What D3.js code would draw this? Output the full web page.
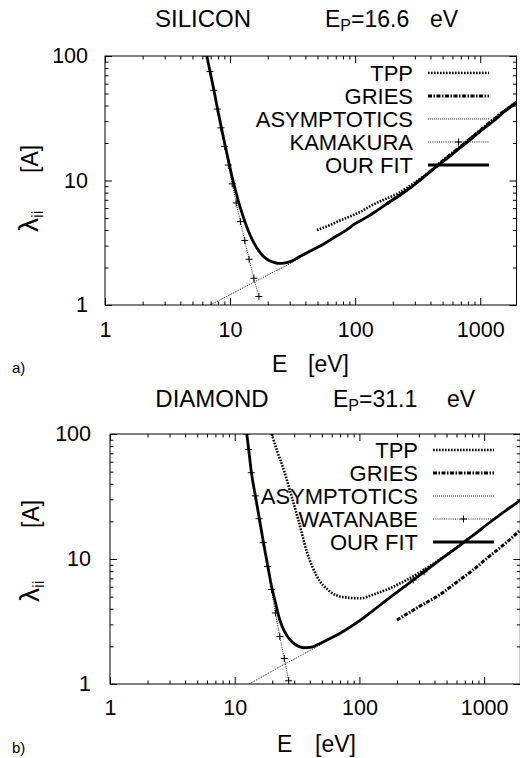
<!DOCTYPE html>
<html>
<head>
<meta charset="utf-8">
<script src="https://cdn.jsdelivr.net/npm/d3@7"></script>
<style>
  body { margin: 0; background: #fff; }
  svg { display: block; font-family: "Liberation Sans", Arial, Helvetica, sans-serif; }
  .axis text { font-size: 21.5px; fill: #000; }
  .axis line { stroke: #000; stroke-width: 1; }
</style>
</head>
<body>
<svg id="chart" width="520" height="758"></svg>
<script>
// ---- data (E in eV, lambda in A) ----
const xTicks = [1, 10, 100, 1000];
const yTicks = [1, 10, 100];

// a) silicon
const siTitle = "SILICON";
const siEp = "=16.6";
const siLegend = ["TPP", "GRIES", "ASYMPTOTICS", "KAMAKURA", "OUR FIT"];
const siTpp = [[49.5, 4.0], [60, 4.3], [75, 4.75], [91, 5.15], [110, 5.6], [135, 6.3], [169, 7.0], [216, 7.8],
  [280, 9.2], [380, 11.4], [500, 14.3], [700, 18.9], [1000, 25.2], [1400, 33.5], [1950, 42.5]];
const siGries = [[180, 6.5], [250, 8.2], [350, 10.6], [500, 14.4], [700, 18.8], [1000, 25.3], [1400, 33.3], [1950, 42.6]];
const siAsym = [[6.9, 1.0], [10, 1.21], [15, 1.5], [20, 1.74], [25, 1.95], [31, 2.18], [38, 2.45], [45, 2.7]];
const siKamakura = [[6.5, 100], [6.9, 75], [7.4, 53], [7.9, 37.5], [8.45, 26.5], [9.05, 18.8], [9.7, 13.3],
  [10.4, 9.4], [11.2, 6.6], [12.1, 4.67], [13.1, 3.3], [14.2, 2.33], [15.5, 1.64], [17.0, 1.17]];
const siFit = [[6.5, 101], [6.9, 76], [7.4, 54], [7.9, 38.6], [8.45, 27.6], [9.05, 19.9], [9.7, 14.5], [10.4, 10.6],
  [11.2, 7.9], [12.1, 6.0], [13.1, 4.7], [14.2, 3.8], [15.5, 3.15], [17, 2.72], [18.5, 2.45], [20.5, 2.28],
  [22.5, 2.2], [24.5, 2.16], [27, 2.17], [31, 2.25], [36, 2.45], [45, 2.75], [57, 3.12], [70, 3.55], [85, 4.0],
  [100, 4.5], [125, 5.1], [150, 5.75], [200, 7.0], [250, 8.1], [320, 9.8], [420, 12.3], [550, 15.2], [700, 18.5],
  [850, 21.6], [1000, 24.8], [1250, 29.5], [1550, 35.5], [1950, 42]];

// b) diamond
const cTitle = "DIAMOND";
const cEp = "=31.1";
const cLegend = ["TPP", "GRIES", "ASYMPTOTICS", "WATANABE", "OUR FIT"];
const cTpp = [[19.8, 100], [22, 72], [25, 50], [28, 34], [32.4, 20.5], [37.8, 11.5], [45.5, 7.3], [58, 5.5],
  [74, 4.95], [101, 4.85], [130, 5.2], [180, 5.9], [240, 6.8], [310, 7.9], [420, 9.6], [560, 11.7], [750, 14.6]];
const cGries = [[200, 3.25], [300, 4.15], [443, 5.2], [600, 6.5], [819, 8.2], [1100, 10.5], [1500, 13.5], [1950, 17]];
const cAsym = [[13, 1.0], [16, 1.12], [20, 1.27], [25, 1.44], [30, 1.58], [35, 1.72], [40, 1.85], [47, 2.02], [55, 2.22]];
const cWatanabe = [[12.5, 100], [12.95, 75], [13.6, 49], [14.6, 32], [15.7, 21], [16.9, 13.5], [18.3, 8.7],
  [19.7, 5.7], [21.2, 3.7], [23.0, 2.4], [25.0, 1.6], [27.1, 1.06]];
const cWatanabeHigh = [[270, 6.8], [330, 7.9]];
const cFit = [[12.5, 100], [12.95, 75], [13.6, 49.5], [14.6, 32.5], [15.7, 21.5], [16.9, 14], [18.3, 9.1],
  [19.7, 6.1], [21.2, 4.5], [23.0, 3.25], [25, 2.65], [27.8, 2.25], [31, 2.05], [35.5, 1.95], [40, 1.96],
  [45, 2.04], [55, 2.25], [70, 2.55], [100, 3.2], [130, 3.9], [170, 4.8], [240, 6.2], [330, 7.9], [440, 9.8],
  [600, 12.3], [820, 15.5], [1100, 19.5], [1500, 24.5], [1950, 29.5]];

// line styles, in legend order
const styles = [
  {w: 2.6, dash: "1.6,1.4", marker: false},        // TPP
  {w: 3, dash: "4,1.5,1.5,1.5", marker: false},     // GRIES
  {w: 0.9, dash: "1,1", marker: false},             // ASYMPTOTICS
  {w: 0.9, dash: "1,1.2", marker: true},            // experiment
  {w: 2.8, dash: null, marker: false}               // OUR FIT
];

let svg = d3.select('#chart');
let plus = "M-3.5,0H3.5M0,-3.5V3.5";

function minorTicks(lo, hi) {
  let out = [];
  for (let d = lo; d < hi; d *= 10)
    for (let m = 2; m <= 9; m++) if (d * m <= hi) out.push(d * m);
  return out;
}

function drawPanel(p) {
  let g = svg.append('g');
  let x = d3.scaleLog().domain([1, 1950]).range([p.left, p.right]);
  let y = d3.scaleLog().domain([1, 100]).range([p.bottom, p.top]);

  // clip
  g.append('clipPath').attr('id', p.id)
    .append('rect')
    .attr('x', p.left).attr('y', p.top)
    .attr('width', p.right - p.left).attr('height', p.bottom - p.top);

  // axes (ticks inside, mirrored)
  let xMin = minorTicks(1, 1950), yMin = minorTicks(1, 100);
  g.append('g').attr('class', 'axis')
    .attr('transform', 'translate(0,' + p.bottom + ')')
    .call(d3.axisBottom(x).tickValues(xTicks).tickSize(-7).tickPadding(p.xPad).tickFormat(d3.format('d')));
  g.append('g').attr('class', 'axis')
    .attr('transform', 'translate(0,' + p.bottom + ')')
    .call(d3.axisBottom(x).tickValues(xMin).tickSize(-3.5).tickFormat(''));
  g.append('g').attr('class', 'axis')
    .attr('transform', 'translate(0,' + p.top + ')')
    .call(d3.axisTop(x).tickValues(xTicks).tickSize(-7).tickFormat(''));
  g.append('g').attr('class', 'axis')
    .attr('transform', 'translate(0,' + p.top + ')')
    .call(d3.axisTop(x).tickValues(xMin).tickSize(-3.5).tickFormat(''));
  g.append('g').attr('class', 'axis')
    .attr('transform', 'translate(' + p.left + ',0)')
    .call(d3.axisLeft(y).tickValues(yTicks).tickSize(-7).tickPadding(p.yPad).tickFormat(d3.format('d')));
  g.append('g').attr('class', 'axis')
    .attr('transform', 'translate(' + p.left + ',0)')
    .call(d3.axisLeft(y).tickValues(yMin).tickSize(-3.5).tickFormat(''));
  g.append('g').attr('class', 'axis')
    .attr('transform', 'translate(' + p.right + ',0)')
    .call(d3.axisRight(y).tickValues(yTicks).tickSize(-7).tickFormat(''));
  g.append('g').attr('class', 'axis')
    .attr('transform', 'translate(' + p.right + ',0)')
    .call(d3.axisRight(y).tickValues(yMin).tickSize(-3.5).tickFormat(''));
  g.selectAll('.axis .domain').remove();
  g.selectAll('.axis text').attr('font-family', null);

  g.append('rect')
    .attr('x', p.left).attr('y', p.top)
    .attr('width', p.right - p.left).attr('height', p.bottom - p.top)
    .attr('fill', 'none').attr('stroke', '#000').attr('stroke-width', 1);

  // curves
  let line = d3.line()
    .x(d => x(d[0]))
    .y(d => y(d[1]))
    .curve(d3.curveMonotoneX);
  let cg = g.append('g').attr('clip-path', 'url(#' + p.id + ')');
  p.series.forEach((s, i) => {
    s.forEach(data => {
      let st = styles[i];
      cg.append('path')
        .attr('d', line(data))
        .attr('fill', 'none')
        .attr('stroke', '#000')
        .attr('stroke-width', st.w)
        .attr('stroke-dasharray', st.dash);
      if (st.marker) {
        cg.selectAll(null)
          .data(data)
          .enter()
          .append('path')
          .attr('d', plus)
          .attr('transform', d => 'translate(' + x(d[0]) + ',' + y(d[1]) + ')')
          .attr('stroke', '#000')
          .attr('stroke-width', 1);
      }
    });
  });

  // legend
  p.legend.forEach((name, i) => {
    let ly = p.legY + i * 23;
    let st = styles[i];
    g.append('text')
      .attr('x', p.legText).attr('y', ly)
      .attr('text-anchor', 'end')
      .attr('dominant-baseline', 'central')
      .attr('font-size', 22)
      .text(name);
    g.append('line')
      .attr('x1', p.legX1).attr('x2', p.legX2)
      .attr('y1', ly).attr('y2', ly)
      .attr('stroke', '#000')
      .attr('stroke-width', st.w)
      .attr('stroke-dasharray', st.dash);
    if (st.marker) {
      g.append('path').attr('d', plus)
        .attr('transform', 'translate(' + ((p.legX1 + p.legX2) / 2) + ',' + ly + ')')
        .attr('stroke', '#000');
    }
  });

  // titles and labels
  g.append('text').attr('x', p.titleX).attr('y', p.titleY)
    .attr('text-anchor', 'middle').attr('font-size', 24).text(p.title);
  let ep = g.append('text').attr('x', p.epX).attr('y', p.titleY).attr('font-size', 23);
  ep.append('tspan').text('E');
  ep.append('tspan').attr('dy', 4).attr('font-size', 16).text('P');
  ep.append('tspan').attr('dy', -4).text(p.ep);
  g.append('text').attr('x', p.evX).attr('y', p.titleY).attr('font-size', 23).text('eV');

  let yl = g.append('g').attr('transform', 'translate(' + p.ylX + ',' + p.ylY + ') rotate(-90)');
  let lam = yl.append('text').attr('x', 0).attr('y', 0).attr('font-size', 28);
  lam.append('tspan').text('λ');
  lam.append('tspan').attr('dy', 5).attr('font-size', 17).text('ii');
  yl.append('text').attr('x', p.ylGap).attr('y', 0).attr('font-size', 23).text('[A]');

  g.append('text').attr('x', p.xlX).attr('y', p.xlY).attr('font-size', 23).text('E');
  g.append('text').attr('x', p.xlX + p.xlGap).attr('y', p.xlY).attr('font-size', 23).text('[eV]');
  g.append('text').attr('x', 12).attr('y', p.xlY + 1).attr('font-size', 15).text(p.tag);
}

drawPanel({
  id: 'clipA', left: 105, right: 516.5, top: 56, bottom: 305, xPad: 17, yPad: 17,
  series: [[siTpp], [siGries], [siAsym], [siKamakura], [siFit]],
  legend: siLegend, legY: 73, legText: 413, legX1: 428, legX2: 489,
  title: siTitle, ep: siEp, titleX: 203, titleY: 27, epX: 325, evX: 430,
  ylX: 38, ylY: 232, ylGap: 59, xlX: 272, xlY: 372, xlGap: 36, tag: 'a)'
});

drawPanel({
  id: 'clipB', left: 110, right: 520.3, top: 434, bottom: 684, xPad: 16, yPad: 19,
  series: [[cTpp], [cGries], [cAsym], [cWatanabe, cWatanabeHigh], [cFit]],
  legend: cLegend, legY: 450, legText: 418, legX1: 433, legX2: 494,
  title: cTitle, ep: cEp, titleX: 212, titleY: 407, epX: 333, evX: 447,
  ylX: 39, ylY: 602, ylGap: 74, xlX: 277, xlY: 752, xlGap: 38, tag: 'b)'
});
</script>
</body>
</html>
